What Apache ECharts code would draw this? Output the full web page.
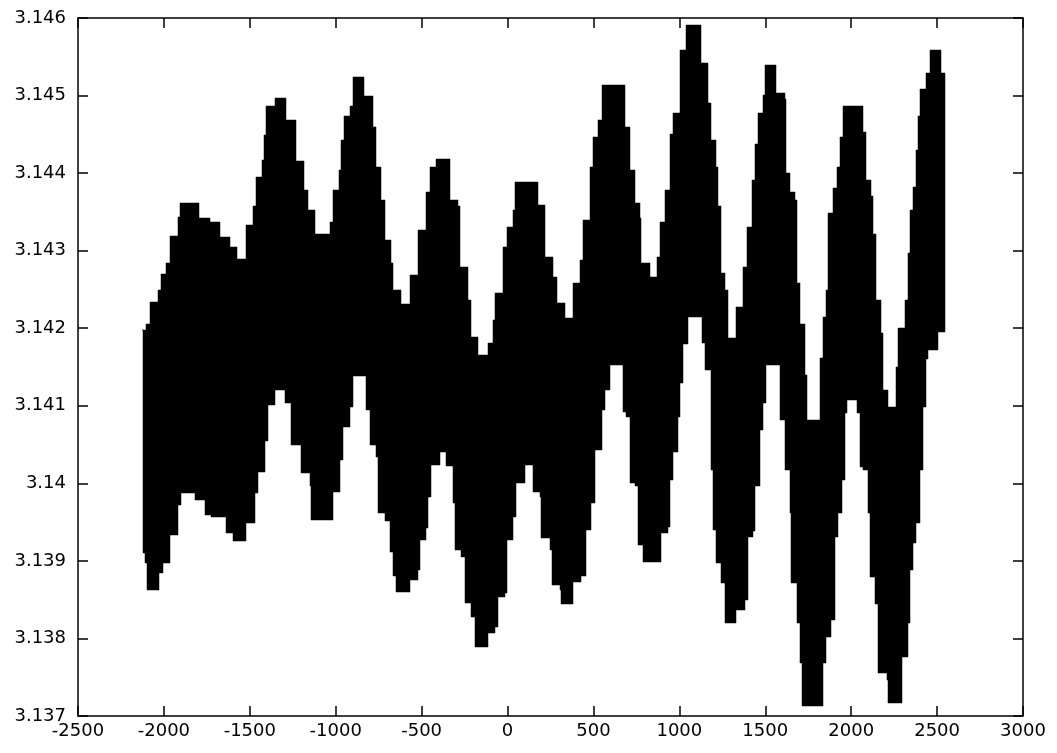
<!DOCTYPE html>
<html>
<head>
<meta charset="utf-8">
<script src="https://cdn.jsdelivr.net/npm/echarts@6/dist/echarts.min.js"></script>
<style>
  html, body { margin: 0; padding: 0; background: #fff; }
  #chart { width: 1057px; height: 753px; }
</style>
</head>
<body>
<div id="chart"></div>
<script>
// Axis ranges
const xMin = -2500, xMax = 3000, xStep = 500;
const yMin = 3.137, yMax = 3.146, yStep = 0.001;

// Upper envelope of the oscillating series, [x, y]; each level holds until the next x
const upperEnvelope = [
  [-2127, 3.14198], [-2102, 3.14206], [-2083, 3.14234], [-2034, 3.14249], [-2015, 3.14270],
  [-1985, 3.14284], [-1966, 3.14319], [-1918, 3.14344], [-1908, 3.14361], [-1850, 3.14362],
  [-1802, 3.14362], [-1796, 3.14342], [-1733, 3.14337], [-1685, 3.14337], [-1675, 3.14318],
  [-1617, 3.14305], [-1574, 3.14289], [-1530, 3.14289], [-1525, 3.14333], [-1481, 3.14357],
  [-1462, 3.14395], [-1432, 3.14417], [-1417, 3.14449], [-1403, 3.14486], [-1355, 3.14497],
  [-1297, 3.14497], [-1287, 3.14468], [-1229, 3.14415], [-1186, 3.14378], [-1161, 3.14352],
  [-1122, 3.14321], [-1045, 3.14321], [-1035, 3.14337], [-1016, 3.14378], [-981, 3.14404],
  [-967, 3.14443], [-953, 3.14473], [-919, 3.14486], [-899, 3.14524], [-841, 3.14524],
  [-836, 3.14499], [-783, 3.14460], [-763, 3.14408], [-734, 3.14365], [-715, 3.14314],
  [-676, 3.14284], [-666, 3.14249], [-618, 3.14231], [-579, 3.14231], [-569, 3.14269],
  [-521, 3.14327], [-472, 3.14376], [-453, 3.14408], [-414, 3.14418], [-346, 3.14418],
  [-336, 3.14365], [-288, 3.14357], [-278, 3.14279], [-230, 3.14236], [-210, 3.14189],
  [-172, 3.14166], [-123, 3.14166], [-113, 3.14181], [-84, 3.14211], [-75, 3.14245],
  [-26, 3.14305], [-6, 3.14331], [32, 3.14352], [42, 3.14389], [168, 3.14389],
  [178, 3.14359], [217, 3.14292], [265, 3.14266], [285, 3.14232], [333, 3.14213],
  [362, 3.14213], [381, 3.14258], [420, 3.14288], [440, 3.14340], [478, 3.14408],
  [498, 3.14447], [527, 3.14468], [547, 3.14514], [672, 3.14514], [682, 3.14460],
  [711, 3.14404], [740, 3.14361], [769, 3.14342], [779, 3.14284], [828, 3.14266],
  [867, 3.14292], [886, 3.14337], [915, 3.14378], [944, 3.14451], [963, 3.14477],
  [1002, 3.14559], [1041, 3.14591], [1119, 3.14591], [1124, 3.14542], [1167, 3.14490],
  [1187, 3.14443], [1216, 3.14408], [1225, 3.14357], [1245, 3.14271], [1264, 3.14249],
  [1284, 3.14187], [1322, 3.14187], [1332, 3.14228], [1371, 3.14279], [1391, 3.14331],
  [1420, 3.14391], [1439, 3.14438], [1458, 3.14477], [1487, 3.14501], [1497, 3.14539],
  [1555, 3.14539], [1565, 3.14503], [1613, 3.14496], [1623, 3.14400], [1643, 3.14376],
  [1672, 3.14365], [1682, 3.14258], [1701, 3.14205], [1730, 3.14140], [1742, 3.14082],
  [1800, 3.14082], [1817, 3.14162], [1837, 3.14215], [1856, 3.14249], [1866, 3.14348],
  [1895, 3.14381], [1915, 3.14408], [1934, 3.14447], [1953, 3.14486], [2060, 3.14486],
  [2069, 3.14453], [2089, 3.14391], [2118, 3.14370], [2128, 3.14322], [2147, 3.14236],
  [2176, 3.14194], [2186, 3.14120], [2213, 3.14099], [2242, 3.14099], [2260, 3.14150],
  [2273, 3.14200], [2312, 3.14236], [2331, 3.14297], [2341, 3.14352], [2360, 3.14382],
  [2380, 3.14430], [2389, 3.14473], [2399, 3.14509], [2438, 3.14529], [2458, 3.14559],
  [2506, 3.14559], [2522, 3.14529], [2545, 3.14499]
];

// Lower envelope of the oscillating series, [x, y]; each level holds until the next x
const lowerEnvelope = [
  [-2127, 3.14198], [-2122, 3.13910], [-2112, 3.13897], [-2096, 3.13863], [-2034, 3.13863],
  [-2029, 3.13884], [-2005, 3.13897], [-1966, 3.13933], [-1918, 3.13972], [-1898, 3.13988],
  [-1831, 3.13988], [-1821, 3.13979], [-1763, 3.13959], [-1724, 3.13957], [-1646, 3.13957],
  [-1640, 3.13936], [-1598, 3.13925], [-1530, 3.13925], [-1520, 3.13949], [-1471, 3.13988],
  [-1452, 3.14015], [-1413, 3.14054], [-1394, 3.14101], [-1355, 3.14120], [-1307, 3.14120],
  [-1297, 3.14104], [-1258, 3.14049], [-1200, 3.14013], [-1151, 3.13996], [-1142, 3.13953],
  [-1025, 3.13953], [-1016, 3.13989], [-977, 3.14030], [-958, 3.14073], [-919, 3.14099],
  [-899, 3.14138], [-831, 3.14138], [-821, 3.14095], [-802, 3.14049], [-763, 3.14034],
  [-754, 3.13962], [-715, 3.13951], [-686, 3.13912], [-666, 3.13880], [-647, 3.13860],
  [-579, 3.13860], [-569, 3.13875], [-521, 3.13888], [-511, 3.13927], [-472, 3.13942],
  [-463, 3.13983], [-443, 3.14024], [-395, 3.14041], [-366, 3.14041], [-356, 3.14022],
  [-317, 3.13975], [-307, 3.13914], [-268, 3.13905], [-249, 3.13846], [-210, 3.13828],
  [-191, 3.13789], [-133, 3.13789], [-113, 3.13807], [-75, 3.13815], [-55, 3.13854],
  [-16, 3.13859], [-6, 3.13927], [32, 3.13957], [52, 3.14000], [100, 3.14024],
  [139, 3.14024], [149, 3.13989], [187, 3.13983], [197, 3.13930], [246, 3.13914],
  [256, 3.13869], [304, 3.13863], [314, 3.13845], [372, 3.13845], [381, 3.13873],
  [430, 3.13880], [459, 3.13940], [488, 3.13975], [508, 3.14043], [547, 3.14095],
  [566, 3.14120], [595, 3.14153], [634, 3.14153], [672, 3.14092], [692, 3.14086],
  [711, 3.14000], [740, 3.13996], [760, 3.13921], [789, 3.13899], [886, 3.13899],
  [896, 3.13936], [934, 3.13944], [944, 3.14004], [963, 3.14041], [992, 3.14086],
  [1002, 3.14130], [1020, 3.14180], [1049, 3.14215], [1101, 3.14215], [1129, 3.14181],
  [1148, 3.14146], [1187, 3.14017], [1196, 3.13940], [1216, 3.13897], [1245, 3.13872],
  [1264, 3.13820], [1322, 3.13820], [1332, 3.13837], [1381, 3.13850], [1400, 3.13931],
  [1429, 3.13938], [1439, 3.13996], [1468, 3.14069], [1487, 3.14104], [1507, 3.14153],
  [1575, 3.14153], [1584, 3.14082], [1613, 3.14017], [1643, 3.13962], [1652, 3.13872],
  [1682, 3.13820], [1701, 3.13768], [1711, 3.13713], [1817, 3.13713], [1837, 3.13768],
  [1856, 3.13802], [1885, 3.13824], [1904, 3.13931], [1924, 3.13962], [1944, 3.14004],
  [1963, 3.14091], [1973, 3.14107], [2011, 3.14107], [2031, 3.14091], [2050, 3.14021],
  [2069, 3.14017], [2098, 3.13962], [2108, 3.13879], [2137, 3.13845], [2157, 3.13755],
  [2206, 3.13746], [2215, 3.13717], [2273, 3.13717], [2293, 3.13776], [2331, 3.13820],
  [2341, 3.13888], [2360, 3.13923], [2380, 3.13949], [2399, 3.14017], [2419, 3.14099],
  [2438, 3.14160], [2448, 3.14172], [2506, 3.14195], [2545, 3.14195]
];

const chart = echarts.init(document.getElementById('chart'), null, { renderer: 'canvas' });

const FONT = '"DejaVu Sans", "Liberation Sans", sans-serif';
const frameLine = { show: true, onZero: false, lineStyle: { color: '#000', width: 1.5 } };
const innerTick = { show: true, inside: true, length: 10, lineStyle: { color: '#000', width: 1.5 } };

function xAxisDef(position, showLabels) {
  return {
    type: 'value', position: position,
    min: xMin, max: xMax, interval: xStep,
    axisLine: frameLine, axisTick: innerTick, splitLine: { show: false },
    axisLabel: {
      show: showLabels, color: '#000', fontSize: 18, fontFamily: FONT, margin: 6,
      showMinLabel: true, showMaxLabel: true,
      formatter: v => String(v)
    }
  };
}
function yAxisDef(position, showLabels) {
  return {
    type: 'value', position: position,
    min: yMin, max: yMax, interval: yStep,
    axisLine: frameLine, axisTick: innerTick, splitLine: { show: false },
    axisLabel: {
      show: showLabels, color: '#000', fontSize: 18, fontFamily: FONT, margin: 12,
      showMinLabel: true, showMaxLabel: true,
      formatter: v => String(+v.toFixed(3))
    }
  };
}

// Pixel-snapped coordinate so the staircase edges stay crisp
function snap(api, p) {
  const c = api.coord(p);
  return [Math.round(c[0]), Math.round(c[1])];
}

// Staircase outline: each envelope level is held until the next sample's x
function stepped(points, api) {
  const out = [];
  for (let i = 0; i < points.length; i++) {
    out.push(snap(api, points[i]));
    if (i + 1 < points.length) {
      out.push(snap(api, [points[i + 1][0], points[i][1]]));
    }
  }
  return out;
}

chart.setOption({
  animation: false,
  backgroundColor: '#fff',
  grid: { left: 78, right: 34, top: 18, bottom: 37, containLabel: false, outerBoundsMode: 'none' },
  xAxis: [xAxisDef('bottom', true), xAxisDef('top', false)],
  yAxis: [yAxisDef('left', true), yAxisDef('right', false)],
  series: [{
    type: 'custom',
    xAxisIndex: 0, yAxisIndex: 0,
    data: [[upperEnvelope[0][0], upperEnvelope[0][1]]],
    renderItem: function (params, api) {
      // Band between the upper and lower envelopes, closed into one polygon
      const pts = stepped(upperEnvelope, api)
        .concat(stepped(lowerEnvelope, api).reverse());
      return {
        type: 'polygon',
        shape: { points: pts },
        style: { fill: '#000', stroke: '#000', lineWidth: 0.5 }
      };
    }
  }]
});
</script>
</body>
</html>
